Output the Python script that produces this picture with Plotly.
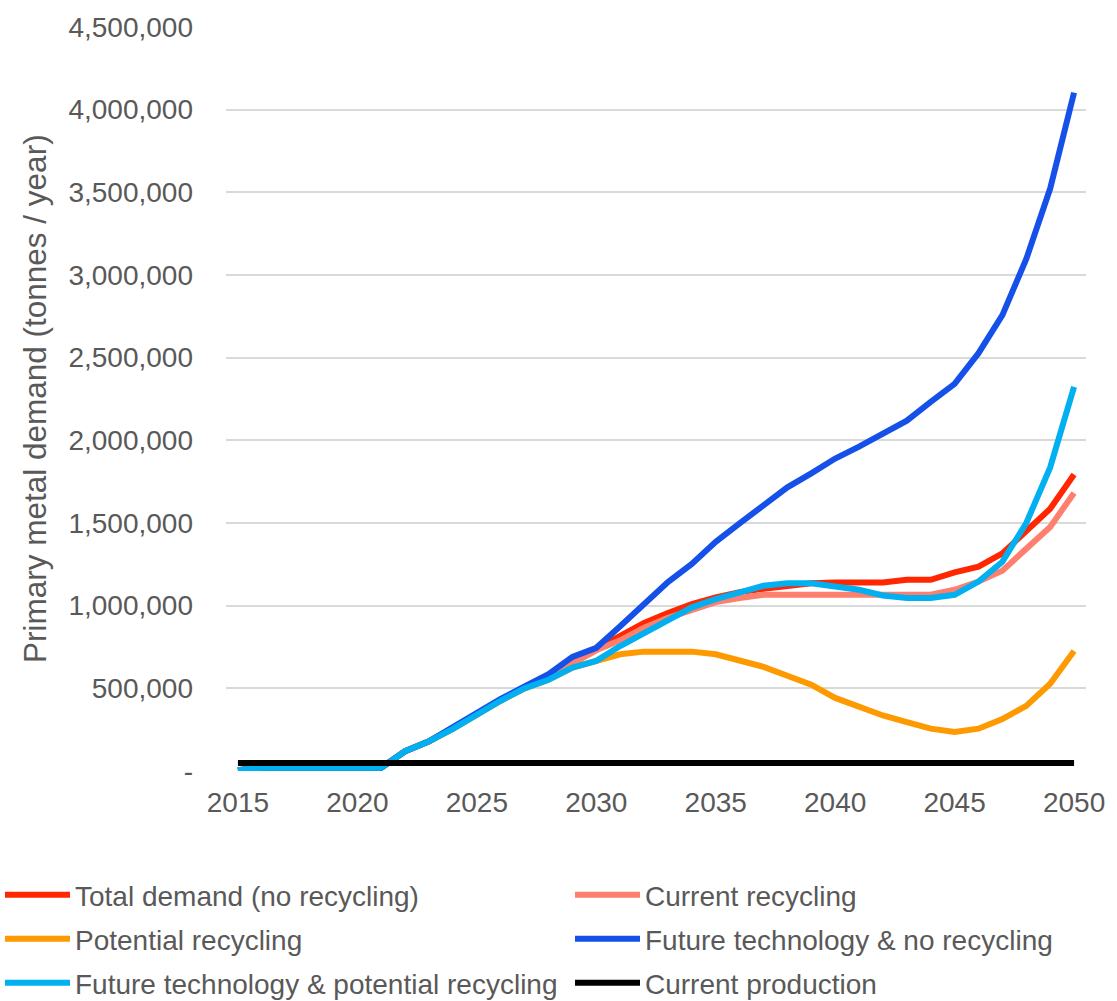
import plotly.graph_objects as go

# Years covered by the projection
years = list(range(2015, 2051))

# Primary metal demand (tonnes / year) per scenario
total_demand = [5000, 20000, 20000, 20000, 20000, 20000, 20000,
                120000, 180000, 260000, 348000, 430000, 505000, 575000,
                660000, 738000, 816000, 896000, 956000, 1010000, 1050000,
                1082000, 1102000, 1116000, 1136000, 1140000, 1140000, 1140000,
                1156000, 1156000, 1202000, 1236000, 1316000, 1446000, 1586000,
                1793000]
current_recycling = [5000, 20000, 20000, 20000, 20000, 20000, 20000,
                     120000, 180000, 258000, 346000, 428000, 503000, 570000,
                     650000, 730000, 790000, 866000, 926000, 978000, 1022000,
                     1046000, 1066000, 1066000, 1066000, 1066000, 1066000, 1066000,
                     1066000, 1066000, 1096000, 1146000, 1212000, 1346000, 1476000,
                     1682000]
potential_recycling = [5000, 20000, 20000, 20000, 20000, 20000, 20000,
                       120000, 180000, 255000, 345000, 425000, 500000, 552000,
                       626000, 666000, 706000, 722000, 722000, 722000, 706000,
                       670000, 630000, 576000, 522000, 442000, 390000, 336000,
                       296000, 256000, 236000, 256000, 314000, 394000, 528000,
                       726000]
future_no_recycling = [5000, 20000, 20000, 20000, 20000, 20000, 20000,
                       120000, 180000, 265000, 352000, 436000, 512000, 586000,
                       690000, 745000, 876000, 1010000, 1143000, 1252000, 1386000,
                       1498000, 1612000, 1716000, 1800000, 1890000, 1962000, 2040000,
                       2119000, 2233000, 2341000, 2527000, 2757000, 3097000, 3523000,
                       4103000]
future_potential_recycling = [5000, 20000, 20000, 20000, 20000, 20000, 20000,
                              120000, 180000, 255000, 345000, 425000, 500000, 552000,
                              626000, 666000, 756000, 836000, 910000, 990000, 1040000,
                              1080000, 1120000, 1136000, 1136000, 1116000, 1096000, 1062000,
                              1046000, 1046000, 1066000, 1146000, 1266000, 1500000, 1836000,
                              2323000]
current_production = [48000] * len(years)

series_names = ["Total demand (no recycling)", "Current recycling",
                "Potential recycling", "Future technology & no recycling",
                "Future technology & potential recycling", "Current production"]
series_values = [total_demand, current_recycling, potential_recycling,
                 future_no_recycling, future_potential_recycling, current_production]
series_colors = ["#FF2600", "#FF7F6E", "#FF9900", "#1550E8", "#00B0F0", "#000000"]

# Y axis ticks
y_tickvals = [0, 500000, 1000000, 1500000, 2000000, 2500000, 3000000, 3500000, 4000000, 4500000]
y_ticktext = ["-", "500,000", "1,000,000", "1,500,000", "2,000,000", "2,500,000",
              "3,000,000", "3,500,000", "4,000,000", "4,500,000"]
x_tickvals = [2015, 2020, 2025, 2030, 2035, 2040, 2045, 2050]

FONT = "Arial, Liberation Sans, sans-serif"
TEXT = "#595959"
W, H = 1117, 1001

# Legend laid out as two columns x three rows, one legend box per entry
legend_ids = ["legend", "legend2", "legend3", "legend4", "legend5", "legend6"]
col_x = [0, 570]
row_top = [870, 914, 958]

fig = go.Figure()
for i, (name, vals, col) in enumerate(zip(series_names, series_values, series_colors)):
    fig.add_trace(go.Scatter(x=years, y=vals, name=name, mode="lines",
                             line=dict(color=col, width=6),
                             legend=legend_ids[i]))

legend_layout = {}
for i, lid in enumerate(legend_ids):
    legend_layout[lid] = dict(
        orientation="h", xref="container", yref="container",
        x=col_x[i % 2] / W, xanchor="left",
        y=1 - row_top[i // 2] / H, yanchor="top",
        font=dict(family=FONT, size=28, color=TEXT),
        itemwidth=65, bgcolor="rgba(0,0,0,0)")

fig.update_layout(
    width=W, height=H,
    margin=dict(l=226, r=22, t=21, b=230),
    paper_bgcolor="white", plot_bgcolor="white",
    font=dict(family=FONT, color=TEXT, size=28),
    showlegend=True,
    xaxis=dict(range=[2014.5, 2050.5], tickvals=x_tickvals, showgrid=False,
               zeroline=False, showline=False, ticks="", ticklabelstandoff=12,
               tickfont=dict(size=28, color=TEXT)),
    yaxis=dict(range=[0, 4500000], tickvals=y_tickvals, ticktext=y_ticktext,
               showgrid=True, gridcolor="#D9D9D9", gridwidth=2,
               zeroline=False, showline=False, ticks="", ticklabelstandoff=32,
               tickfont=dict(size=28, color=TEXT)),
    annotations=[dict(text="Primary metal demand (tonnes / year)", textangle=-90,
                      xref="paper", yref="paper", x=-0.222, y=0.5,
                      xanchor="center", yanchor="middle", showarrow=False,
                      font=dict(family=FONT, size=31.5, color=TEXT))],
    **legend_layout,
)

fig.write_html("out.html")
